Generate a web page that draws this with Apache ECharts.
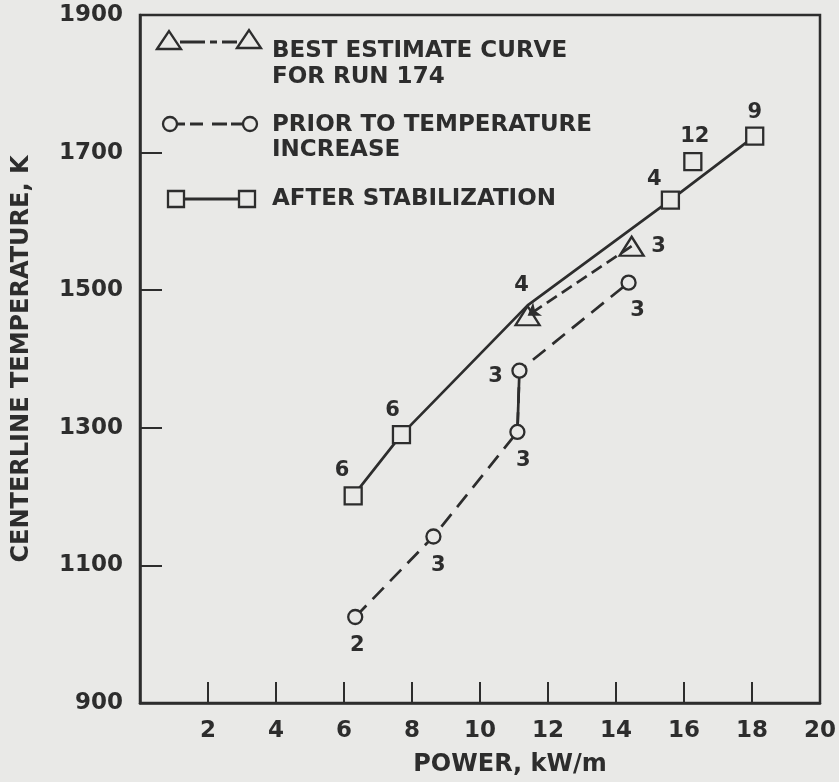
<!DOCTYPE html>
<html><head><meta charset="utf-8">
<script src="https://cdn.jsdelivr.net/npm/echarts@6/dist/echarts.min.js"></script>
<style>html,body{margin:0;padding:0;background:#e9e9e7;} #c{width:839px;height:782px;}</style>
</head><body><div id="c"></div>
<script>
// ---- data ----
const xTicks = [2, 4, 6, 8, 10, 12, 14, 16, 18, 20];
const yTicks = [900, 1100, 1300, 1500, 1700, 1900];

// After stabilization (squares)
const stabX = [6.27, 7.69, 15.6, 16.26, 18.08];
const stabY = [1201, 1290, 1631, 1687, 1724];
const stabN = ['6', '6', '4', '12', '9'];
// solid curve drawn through the after-stabilization data
const curveX = [6.27, 7.69, 11.4, 15.6, 18.08];
const curveY = [1201, 1290, 1478, 1631, 1724];

// Best estimate curve for run 174 (triangles)
const bestX = [11.4, 14.46];
const bestY = [1463, 1564];
const bestN = ['4', '3'];

// Prior to temperature increase (circles)
const priorX = [6.33, 8.63, 11.1, 11.16, 14.37];
const priorY = [1025, 1142, 1294, 1383, 1511];
const priorN = ['2', '3', '3', '3', '3'];

// ---- layout / style (not data) ----
const stabOff = [[-11, -25], [-9, -24], [-16, -21], [2, -25], [0, -24]];
const bestOff = [[-6, -30], [27, 0]];
const priorOff = [[2, 29], [5, 29], [6, 29], [-24, 6], [9, 28]];

const INK = '#2d2d2d';
const BG = '#e9e9e7';
const FONT = 'DejaVu Sans';

function pts(xs, ys) { return xs.map((x, i) => [x, ys[i]]); }
function labelled(xs, ys, ns, offs) {
  return xs.map((x, i) => ({
    value: [x, ys[i]],
    label: { show: true, formatter: ns[i], position: 'inside', offset: offs[i] }
  }));
}
const ptLabel = { color: INK, fontFamily: FONT, fontWeight: 'bold', fontSize: 21 };
const markStyle = { color: BG, borderColor: INK, borderWidth: 2.3, opacity: 1 };

const chart = echarts.init(document.getElementById('c'), null, { renderer: 'canvas' });

const lx = 272;
const tfont = 'bold 23px "' + FONT + '"';
function txt(t, y) {
  return { type: 'text', style: { text: t, x: lx, y: y, font: tfont, fill: INK, verticalAlign: 'middle' }, z: 20 };
}
function seg(x1, y1, x2, y2) {
  return { type: 'line', shape: { x1, y1, x2, y2 }, style: { stroke: INK, lineWidth: 3 }, z: 20 };
}
const legendGraphic = [
  // row 1: triangles dash-dot
  seg(180, 42, 205, 42), seg(210, 42, 217, 42), seg(222, 42, 237, 42),
  { type: 'polygon', shape: { points: [[157, 49], [169, 31], [181, 49]] }, style: { fill: BG, stroke: INK, lineWidth: 2.3 }, z: 21 },
  { type: 'polygon', shape: { points: [[237, 48], [249, 30], [261, 48]] }, style: { fill: BG, stroke: INK, lineWidth: 2.3 }, z: 21 },
  txt('BEST ESTIMATE CURVE', 51), txt('FOR RUN 174', 77),
  // row 2: circles dashed
  seg(177, 124, 185, 124), seg(190, 124, 203, 124), seg(212, 124, 227, 124), seg(231, 124, 243, 124),
  { type: 'circle', shape: { cx: 170, cy: 124, r: 7 }, style: { fill: BG, stroke: INK, lineWidth: 2.3 }, z: 21 },
  { type: 'circle', shape: { cx: 250, cy: 124, r: 7 }, style: { fill: BG, stroke: INK, lineWidth: 2.3 }, z: 21 },
  txt('PRIOR TO TEMPERATURE', 125), txt('INCREASE', 150),
  // row 3: squares solid
  seg(184, 199, 240, 199),
  { type: 'rect', shape: { x: 168, y: 191, width: 16, height: 16 }, style: { fill: BG, stroke: INK, lineWidth: 2.3 }, z: 21 },
  { type: 'rect', shape: { x: 239, y: 191, width: 16, height: 16 }, style: { fill: BG, stroke: INK, lineWidth: 2.3 }, z: 21 },
  txt('AFTER STABILIZATION', 199)
];

const axisText = { color: INK, fontFamily: FONT, fontWeight: 'bold', fontSize: 23 };

chart.setOption({
  backgroundColor: BG,
  animation: false,
  grid: { left: 140, right: 19, top: 15, bottom: 78, show: true, borderColor: INK, borderWidth: 2.5, backgroundColor: 'transparent' },
  xAxis: {
    type: 'value', min: 0, max: 20, interval: 2,
    name: 'POWER, kW/m', nameLocation: 'middle', nameGap: 50,
    nameTextStyle: Object.assign({}, axisText, { fontSize: 24, padding: [0, 0, 0, 60] }),
    axisLine: { show: true, lineStyle: { color: INK, width: 2.5 } },
    axisTick: { show: true, inside: true, length: 21, lineStyle: { color: INK, width: 2 } },
    axisLabel: Object.assign({}, axisText, { margin: 17, formatter: v => xTicks.includes(v) ? String(v) : '' }),
    splitLine: { show: false }
  },
  yAxis: {
    type: 'value', min: 900, max: 1900, interval: 200,
    name: 'CENTERLINE TEMPERATURE, K', nameLocation: 'middle', nameGap: 106, nameRotate: 90,
    nameTextStyle: Object.assign({}, axisText, { fontSize: 24 }),
    axisLine: { show: true, lineStyle: { color: INK, width: 2.5 } },
    axisTick: { show: true, inside: true, length: 22, lineStyle: { color: INK, width: 2 } },
    axisLabel: Object.assign({}, axisText, { margin: 17, formatter: v => yTicks.includes(v) ? String(v) : '' }),
    splitLine: { show: false }
  },
  graphic: legendGraphic,
  series: [
    { // solid curve, after stabilization
      type: 'line', data: pts(curveX, curveY), showSymbol: false, symbol: 'none',
      lineStyle: { color: INK, width: 2.7, type: 'solid' }, z: 2, silent: true
    },
    { // dashed, prior to temperature increase
      type: 'line', data: pts(priorX, priorY), showSymbol: false, symbol: 'none',
      lineStyle: { color: INK, width: 2.7, type: [16, 9] }, z: 2, silent: true
    },
    { // solid vertical connector in prior series
      type: 'line', data: pts(priorX.slice(2, 4), priorY.slice(2, 4)), showSymbol: false, symbol: 'none',
      lineStyle: { color: INK, width: 2.7, type: 'solid' }, z: 2, silent: true
    },
    { // best estimate dash-dot with arrow
      type: 'lines', coordinateSystem: 'cartesian2d', z: 6, silent: true,
      symbol: ['none', 'arrow'], symbolSize: [0, 12],
      lineStyle: { color: INK, width: 2.7, type: [12, 6], opacity: 1 },
      data: [{ coords: [[bestX[1], bestY[1]], [bestX[0], bestY[0]]] }]
    },
    {
      type: 'scatter', name: 'AFTER STABILIZATION', symbol: 'rect', symbolSize: 17,
      itemStyle: markStyle, label: ptLabel, z: 4,
      data: labelled(stabX, stabY, stabN, stabOff)
    },
    {
      type: 'scatter', name: 'PRIOR TO TEMPERATURE INCREASE', symbol: 'circle', symbolSize: 14,
      itemStyle: markStyle, label: ptLabel, z: 4,
      data: labelled(priorX, priorY, priorN, priorOff)
    },
    {
      type: 'scatter', name: 'BEST ESTIMATE CURVE FOR RUN 174', symbol: 'triangle', symbolSize: [24, 19],
      itemStyle: markStyle, label: ptLabel, z: 4,
      data: labelled(bestX, bestY, bestN, bestOff)
    }
  ]
});
</script>
</body></html>
